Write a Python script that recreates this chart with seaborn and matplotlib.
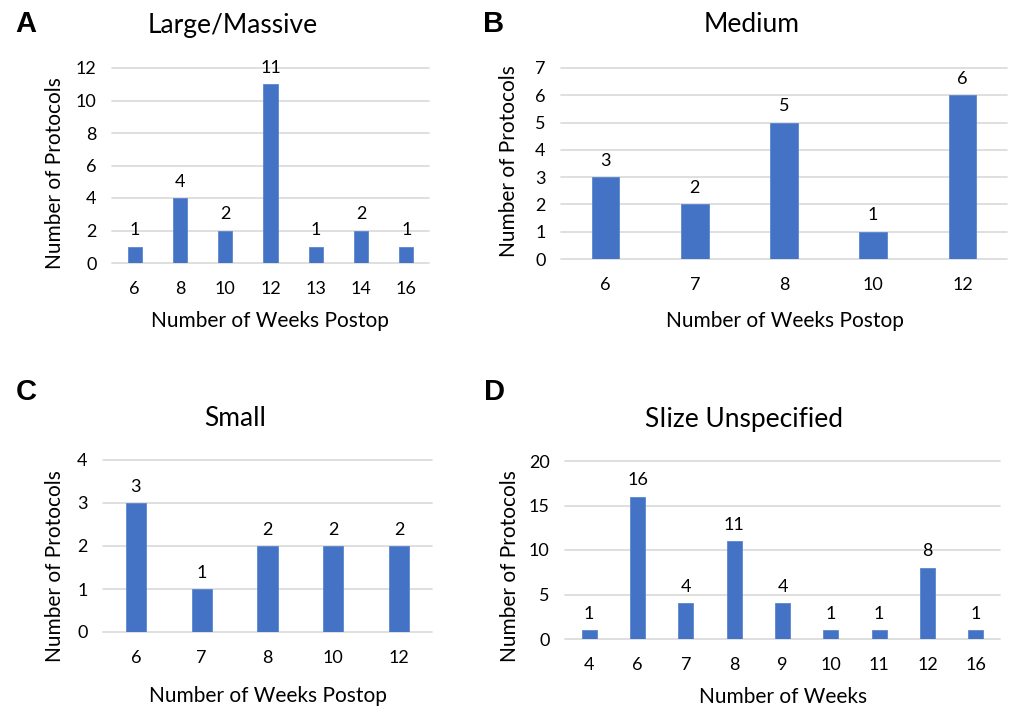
import matplotlib
matplotlib.use("Agg")
import matplotlib.pyplot as plt
import seaborn as sns

# ---- data ----
weeks_a = ["6", "8", "10", "12", "13", "14", "16"]
counts_a = [1, 4, 2, 11, 1, 2, 1]
weeks_b = ["6", "7", "8", "10", "12"]
counts_b = [3, 2, 5, 1, 6]
weeks_c = ["6", "7", "8", "10", "12"]
counts_c = [3, 1, 2, 2, 2]
weeks_d = ["4", "6", "7", "8", "9", "10", "11", "12", "16"]
counts_d = [1, 16, 4, 11, 4, 1, 1, 8, 1]

titles = ["Large/Massive", "Medium", "Small", "SIize Unspecified"]
letters = ["A", "B", "C", "D"]
xlabels = ["Number of Weeks Postop", "Number of Weeks Postop",
           "Number of Weeks Postop", "Number of Weeks"]
ylabel = "Number of Protocols"
yticks_a = [0, 2, 4, 6, 8, 10, 12]
yticks_b = [0, 1, 2, 3, 4, 5, 6, 7]
yticks_c = [0, 1, 2, 3, 4]
yticks_d = [0, 5, 10, 15, 20]

sns.set_theme(style="white")
plt.rcParams['font.family'] = ['Lato', 'DejaVu Sans']

W, H = 1013, 709
fig = plt.figure(figsize=(W / 100, H / 100), dpi=100)

BLUE = "#4472C4"
GRID = "#D9D9D9"

# pixel boxes: x0, x1, y0(top), y1(bottom)
boxes = [(112, 429, 68, 263), (561, 1007, 68, 259),
         (103, 432, 460, 632), (565, 1000, 461, 639)]
ylabel_pos = [(55, 173), (509, 161), (55, 566), (510, 566)]
xlabel_pos = [(270, 321), (785, 321), (268, 696), (783, 697)]
title_pos = [(233, 25), (752, 25), (235, 418), (744, 419)]
letter_pos = [(26, 24), (494, 24), (26, 392), (494, 392)]

datasets = [(weeks_a, counts_a, yticks_a), (weeks_b, counts_b, yticks_b),
            (weeks_c, counts_c, yticks_c), (weeks_d, counts_d, yticks_d)]

for i, ((cats, vals, yt), (x0, x1, y0, y1)) in enumerate(zip(datasets, boxes)):
    ax = fig.add_axes([x0 / W, 1 - y1 / H, (x1 - x0) / W, (y1 - y0) / H])
    sns.barplot(x=cats, y=vals, order=cats, color=BLUE, width=0.31,
                saturation=1, ax=ax, zorder=3, edgecolor="#5B86D0",
                linewidth=0.6)
    ax.set_xlim(-0.5, len(cats) - 0.5)
    ax.set_ylim(yt[0], yt[-1])
    ax.set_yticks(yt)
    ax.yaxis.grid(True, color=GRID, linewidth=1.2)
    for gl in ax.get_ygridlines():
        gl.set_clip_on(False)
    ax.set_axisbelow(True)
    for s in ax.spines.values():
        s.set_visible(False)
    ax.tick_params(axis="both", length=0, labelsize=13, colors="black")
    ax.tick_params(axis="y", pad=11)
    ax.tick_params(axis="x", pad=13)
    for c in ax.containers:
        ax.bar_label(c, padding=6, fontsize=13, color="black")
    ax.set_ylabel(ylabel, fontsize=15, va="center", color="black")
    ax.yaxis.set_label_coords(ylabel_pos[i][0] / W, 1 - ylabel_pos[i][1] / H,
                              transform=fig.transFigure)
    ax.set_xlabel(xlabels[i], fontsize=15, va="center", color="black")
    ax.xaxis.set_label_coords(xlabel_pos[i][0] / W, 1 - xlabel_pos[i][1] / H,
                              transform=fig.transFigure)
    fig.text(title_pos[i][0] / W, 1 - title_pos[i][1] / H, titles[i],
             fontsize=19, ha="center", va="center", color="black")
    fig.text(letter_pos[i][0] / W, 1 - letter_pos[i][1] / H, letters[i],
             fontsize=21, fontweight="bold", family="Liberation Sans",
             ha="center", va="center", color="black")

fig.savefig("out.png", dpi=100, facecolor="white")
